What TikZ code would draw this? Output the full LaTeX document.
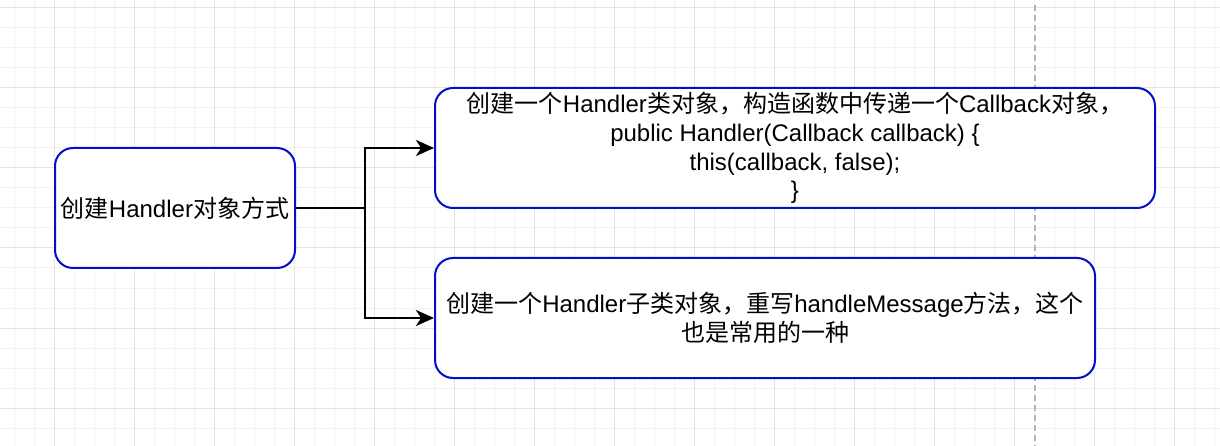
\documentclass[tikz,border=0pt]{standalone}
\usepackage{fontspec}
\setmainfont{Liberation Sans}
\newfontfamily\cjk{Noto Sans CJK SC}
\usetikzlibrary{arrows.meta}
\definecolor{boxblue}{RGB}{0,16,204}
\definecolor{minorgrid}{RGB}{243,243,243}
\definecolor{majorgrid}{RGB}{228,228,228}
\definecolor{dashgray}{RGB}{180,180,180}
\begin{document}
\begin{tikzpicture}[x=1pt,y=-1pt,
  box/.style={draw=boxblue, line width=2pt, fill=white, rounded corners=18pt,
    inner sep=0pt, align=center, font=\fontsize{24}{28.8}\selectfont},
  link/.style={draw=black, line width=2pt},
  conn/.style={link, -{Stealth[length=18pt,width=16pt,inset=5pt]}},
  mgrid/.style={draw=minorgrid, line width=1pt},
  Mgrid/.style={draw=majorgrid, line width=1pt},
  guide/.style={draw=dashgray, line width=1.5pt, dash pattern=on 6pt off 4pt}]
\useasboundingbox (0,0) rectangle (1220,446);
\fill[white] (0,0) rectangle (1220,446);
% grid
\foreach \i in {0,...,60} \draw[mgrid] ({14+20*\i},0) -- ({14+20*\i},446);
\foreach \i in {0,...,22} \draw[mgrid] (0,{8+20*\i}) -- (1220,{8+20*\i});
\foreach \i in {0,...,15} \draw[Mgrid] ({54+80*\i},0) -- ({54+80*\i},446);
\foreach \i in {0,...,5} \draw[Mgrid] (0,{8+80*\i}) -- (1220,{8+80*\i});
% guide
\coordinate (g1) at (1035,5);
\coordinate (g2) at (1035,446);
\draw[guide] (g1) -- (g2);
% boxes
\node[box, minimum width=240pt, minimum height=120pt] (src) at (175,208)
  {{\cjk 创建}Handler{\cjk 对象方式}};
\node[box, minimum width=720pt, minimum height=120pt] (a) at (795,148)
  {{\cjk 创建一个}Handler{\cjk 类对象，构造函数中传递一个}Callback{\cjk 对象，}\\
   public Handler(Callback callback) \{\\
   this(callback, false);\\
   \}};
\node[box, minimum width=660pt, minimum height=120pt] (b) at (765,318)
  {{\cjk 创建一个}Handler{\cjk 子类对象，重写}handleMessage{\cjk 方法，这个}\\
   {\cjk 也是常用的一种}};
% connectors
\coordinate (j) at (365,208);
\draw[link] (src.east) -- (j);
\draw[conn] (j) |- (a.west);
\draw[conn] (j) |- (b.west);
\end{tikzpicture}
\end{document}
